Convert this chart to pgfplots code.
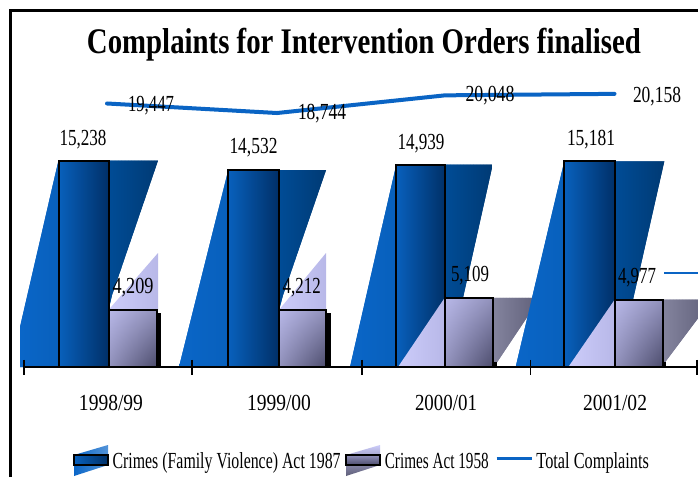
\documentclass[border=0pt]{standalone}
\usepackage{fontspec}
\setmainfont{Liberation Serif}
\usepackage{pgfplots}
\usetikzlibrary{shadings,patterns.meta}
\pgfplotsset{compat=1.18}
\definecolor{lineblue}{HTML}{0A64C4}
\definecolor{b1}{HTML}{0A66C8}
\definecolor{b2}{HTML}{0860BC}
\definecolor{b3}{HTML}{003068}
\definecolor{n1}{HTML}{004C96}
\definecolor{n2}{HTML}{003A74}
\definecolor{lav}{HTML}{CCCCFA}
\definecolor{lav2}{HTML}{B8B8E8}
\definecolor{mid}{HTML}{9292BC}
\definecolor{dark}{HTML}{4C4C6C}
\definecolor{g1}{HTML}{84849E}
\definecolor{g2}{HTML}{5E5E78}
\tikzset{
 tex/.style={postaction={draw=none,pattern={Lines[angle=76,distance=3.2pt,line width=0.45pt]},pattern color=#1}},
 hat/.style={postaction={draw=none,pattern={Lines[angle=55,distance=2.6pt,line width=0.4pt]},pattern color=#1}},
 edge/.style={postaction={draw=black,line width=2pt}},
 lft/.style={draw=none,left color=b1,right color=b2,tex=b1!70!white},
 front/.style={draw=none,left color=b2,right color=b3,tex=b2!75!b3,edge},
 navy/.style={draw=none,left color=n1,right color=n2,tex=n1!65!white},
 lavt/.style={draw=none,left color=lav,right color=lav2},
 front2/.style={draw=none,upper left=lav2,upper right=mid,lower left=mid,lower right=dark,hat=mid!70!dark,edge},
 grey/.style={draw=none,left color=g1,right color=g2,hat=g1!70!white},
}
\newcommand\lab[4]{\node[inner sep=0pt,anchor=base] at (#1pt,{477pt-#2pt-7.5pt}) {\resizebox{#3pt}{\height}{\fontsize{23}{23}\selectfont #4}};}
\begin{document}
\begin{tikzpicture}[x=1pt,y=1pt]
\clip (0pt,0pt) rectangle (698pt,477pt);
\fill[white] (0pt,0pt) rectangle (698pt,477pt);
\begin{axis}[at={(0pt,0pt)},anchor=south west,scale only axis,width=698pt,height=477pt,
 xmin=0,xmax=698,ymin=-8118,ymax=27085,hide axis]
% group 1
\addplot[lavt] coordinates {(108.5,4209)(158,8413)(158,4209)} --cycle;
\addplot[navy] coordinates {(108.5,15238)(158,15238)(112,5300)(108.5,4209)} --cycle;
\addplot[lft] coordinates {(20,0)(20,2952)(58.5,15238)(58.5,0)} --cycle;
\addplot[fill=black,draw=none] coordinates {(156.7,0)(156.7,4000)(161,4000)(161,0)} --cycle;
\addplot[front] coordinates {(58.5,0)(58.5,15238)(108.5,15238)(108.5,0)} --cycle;
\addplot[front2] coordinates {(108.5,0)(108.5,4209)(156.7,4209)(156.7,0)} --cycle;
% group 2
\addplot[lavt] coordinates {(279,4212)(326,8413)(326,4212)} --cycle;
\addplot[navy] coordinates {(279,14532)(326,14532)(283,5300)(279,4212)} --cycle;
\addplot[lft] coordinates {(179,0)(228.3,14532)(228.3,0)} --cycle;
\addplot[fill=black,draw=none] coordinates {(326,0)(326,4000)(331,4000)(331,0)} --cycle;
\addplot[front] coordinates {(228.3,0)(228.3,14532)(278.5,14532)(278.5,0)} --cycle;
\addplot[front2] coordinates {(278.5,0)(278.5,4212)(326,4212)(326,0)} --cycle;
% group 3
\addplot[navy] coordinates {(444.7,14939)(492.7,14939)(463,5109)(444.7,5109)} --cycle;
\addplot[lft] coordinates {(350,0)(396.3,14939)(396.3,0)} --cycle;
\addplot[front] coordinates {(396.3,0)(396.3,14939)(444.7,14939)(444.7,0)} --cycle;
\addplot[grey] coordinates {(493,5109)(540,5109)(497,350)(493,0)} --cycle;
\addplot[lavt] coordinates {(398,0)(444.7,5109)(444.7,0)} --cycle;
\addplot[fill=black,draw=none] coordinates {(493,0)(493,350)(497,350)(497,0)} --cycle;
\addplot[front2] coordinates {(444.7,0)(444.7,5109)(493,5109)(493,0)} --cycle;
% group 4
\addplot[navy] coordinates {(614.7,15181)(664.3,15181)(633,4977)(614.7,4977)} --cycle;
\addplot[lft] coordinates {(515.7,0)(564.3,15181)(564.3,0)} --cycle;
\addplot[front] coordinates {(564.3,0)(564.3,15181)(614.7,15181)(614.7,0)} --cycle;
\addplot[grey] coordinates {(662.7,4977)(712,4977)(665,350)(662.7,0)} --cycle;
\addplot[lavt] coordinates {(568.3,0)(614.7,4977)(614.7,0)} --cycle;
\addplot[fill=black,draw=none] coordinates {(662.7,0)(662.7,350)(666,350)(666,0)} --cycle;
\addplot[front2] coordinates {(614.7,0)(614.7,4977)(662.7,4977)(662.7,0)} --cycle;
% total line
\addplot[lineblue,line width=4pt,line cap=round,line join=round] coordinates {(107,19447)(277,18744)(445,20048)(614.5,20158)};
\addplot[lineblue,line width=2pt] coordinates {(664,6960)(698,6960)};
% x axis line and ticks
\addplot[black,line width=1.8pt] coordinates {(23,0)(698,0)};
\addplot[black,line width=1.4pt] coordinates {(24,520)(24,-590)};
\addplot[black,line width=1.4pt] coordinates {(192,520)(192,-590)};
\addplot[black,line width=1.4pt] coordinates {(362,520)(362,-590)};
\addplot[black,line width=1.4pt] coordinates {(530.5,520)(530.5,-590)};
\addplot[black,line width=1.4pt] coordinates {(697,520)(697,-590)};
\end{axis}
% frame
\draw[black,line width=3pt] (10pt,0pt) -- (10pt,{477pt-10.5pt}) -- (698pt,{477pt-10.5pt});
% title
\node[inner sep=0pt,anchor=base] at (364pt,{477pt-53.5pt}) {\resizebox{554pt}{\height}{\fontsize{36}{36}\selectfont\bfseries Complaints for Intervention Orders finalised}};
% value labels
\lab{83}{138}{47}{15,238}
\lab{253.5}{146}{48}{14,532}
\lab{421}{142}{47}{14,939}
\lab{591}{138}{48}{15,181}
\lab{133}{286}{41}{4,209}
\lab{301.7}{286}{38}{4,212}
\lab{470}{274}{38}{5,109}
\lab{637}{276}{38}{4,977}
\lab{151}{104}{46}{19,447}
\lab{322}{112}{48}{18,744}
\lab{490}{94}{49}{20,048}
\lab{657}{95}{48}{20,158}
\lab{111}{403}{64}{1998/99}
\lab{279}{403}{64}{1999/00}
\lab{446}{403}{62}{2000/01}
\lab{615}{403}{64}{2001/02}
% legend
\shade[left color=b1,right color=b1!70!white] (74pt,{477pt-476pt}) -- (74pt,{477pt-455pt}) -- (108pt,{477pt-445pt}) -- (108pt,{477pt-465pt}) -- cycle;
\draw[black,line width=2pt,left color=b2,right color=b3] (74pt,{477pt-455pt}) rectangle (108pt,{477pt-465pt});
\shade[top color=lav,bottom color=g2] (346pt,{477pt-476pt}) -- (346pt,{477pt-455pt}) -- (380pt,{477pt-445pt}) -- (380pt,{477pt-465pt}) -- cycle;
\draw[black,line width=2pt,top color=mid,bottom color=dark] (346pt,{477pt-455pt}) rectangle (380pt,{477pt-465pt});
\draw[lineblue,line width=3pt] (496.5pt,{477pt-458.7pt}) -- (532pt,{477pt-458.7pt});
\lab{226.6}{461}{228}{Crimes (Family Violence) Act 1987}
\lab{436.8}{461}{104}{Crimes Act 1958}
\lab{592.7}{461}{112.5}{Total Complaints}
\end{tikzpicture}
\end{document}
